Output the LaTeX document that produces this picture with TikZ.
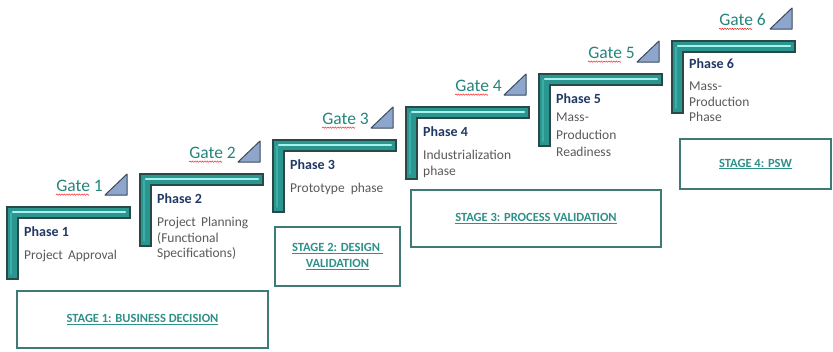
\documentclass[tikz,border=0pt]{standalone}
\usepackage{fontspec}
\setmainfont{Carlito}
\usetikzlibrary{decorations.pathmorphing}

\definecolor{barteal}{HTML}{2A9690}
\definecolor{bardark}{HTML}{2B4848}
\definecolor{shine}{HTML}{A8F2EE}
\definecolor{shinedeep}{HTML}{3DAFA8}
\definecolor{triblue}{HTML}{8EA6CC}
\definecolor{tridark}{HTML}{3B4A5C}
\definecolor{gateteal}{HTML}{25857B}
\definecolor{phasenavy}{HTML}{1F3864}
\definecolor{descgrey}{HTML}{595959}
\definecolor{stageline}{HTML}{3F7A75}
\definecolor{stageteal}{HTML}{2E9088}

\tikzset{
  stepbar/.style={fill=barteal, draw=bardark, line width=1.1pt, line join=miter},
  stepshine/.style={draw=shine, line width=2.4pt, line cap=round},
  stepside/.style={draw=shinedeep, line width=1.8pt, line cap=round},
  gatetri/.style={fill=triblue, draw=tridark, line width=1pt, line join=round},
  gatelbl/.style={font=\fontsize{17.5}{20}\selectfont, text=gateteal, anchor=east, inner sep=0pt},
  phaselbl/.style={font=\bfseries\fontsize{14}{16}\selectfont, text=phasenavy, anchor=west, inner sep=0pt},
  desclbl/.style={font=\fontsize{13.5}{15.5}\selectfont, text=descgrey, anchor=north west, align=left, inner sep=0pt},
  stagebox/.style={draw=stageline, line width=2.4pt, font=\bfseries\fontsize{12.5}{16}\selectfont, text=stageteal, align=center},
  spell/.style={draw=red, line width=0.4pt, decorate, decoration={snake, amplitude=0.7pt, segment length=2.5pt}}
}

\begin{document}
\begin{tikzpicture}[x=1pt,y=-1pt]
\useasboundingbox (0,0) rectangle (833,351);

\draw [stepbar] (7,207) -- ++(123,0) -- ++(0,11) -- ++(-112,0) -- ++(0,61) -- ++(-11,0) -- cycle;
\draw [stepbar] (140,174) -- ++(123,0) -- ++(0,11) -- ++(-112,0) -- ++(0,61) -- ++(-11,0) -- cycle;
\draw [stepbar] (273,140) -- ++(123,0) -- ++(0,11) -- ++(-112,0) -- ++(0,61) -- ++(-11,0) -- cycle;
\draw [stepbar] (406,107) -- ++(123,0) -- ++(0,11) -- ++(-112,0) -- ++(0,61) -- ++(-11,0) -- cycle;
\draw [stepbar] (539,74) -- ++(123,0) -- ++(0,11) -- ++(-112,0) -- ++(0,61) -- ++(-11,0) -- cycle;
\draw [stepbar] (672,41) -- ++(123,0) -- ++(0,11) -- ++(-112,0) -- ++(0,61) -- ++(-11,0) -- cycle;

\draw [stepside] (11,213) -- ++(0,61);
\draw [stepside] (144,180) -- ++(0,61);
\draw [stepside] (277,146) -- ++(0,61);
\draw [stepside] (410,113) -- ++(0,61);
\draw [stepside] (543,80) -- ++(0,61);
\draw [stepside] (676,47) -- ++(0,61);
\draw [stepshine] (13,212) -- ++(112,0);
\draw [stepshine] (146,179) -- ++(112,0);
\draw [stepshine] (279,145) -- ++(112,0);
\draw [stepshine] (412,112) -- ++(112,0);
\draw [stepshine] (545,79) -- ++(112,0);
\draw [stepshine] (678,46) -- ++(112,0);

\draw [gatetri] (105,195) -- (127,195) -- (127,174) -- cycle;
\draw [gatetri] (238,162) -- (260,162) -- (260,141) -- cycle;
\draw [gatetri] (371,128) -- (393,128) -- (393,107) -- cycle;
\draw [gatetri] (504,95) -- (526,95) -- (526,74) -- cycle;
\draw [gatetri] (637,62) -- (659,62) -- (659,41) -- cycle;
\draw [gatetri] (770,29) -- (792,29) -- (792,8) -- cycle;

\node (g1) at (103,186) [gatelbl] {Gate 1};
\node (g2) at (236,153) [gatelbl] {Gate 2};
\node (g3) at (369,119) [gatelbl] {Gate 3};
\node (g4) at (502,86) [gatelbl] {Gate 4};
\node (g5) at (635,53) [gatelbl] {Gate 5};
\node (g6) at (766,20) [gatelbl] {Gate 6};
\draw [spell] ([yshift=-3pt]g1.base west) -- ([yshift=-3pt,xshift=33pt]g1.base west);
\draw [spell] ([yshift=-3pt]g2.base west) -- ([yshift=-3pt,xshift=33pt]g2.base west);
\draw [spell] ([yshift=-3pt]g3.base west) -- ([yshift=-3pt,xshift=33pt]g3.base west);
\draw [spell] ([yshift=-3pt]g4.base west) -- ([yshift=-3pt,xshift=33pt]g4.base west);
\draw [spell] ([yshift=-3pt]g5.base west) -- ([yshift=-3pt,xshift=33pt]g5.base west);
\draw [spell] ([yshift=-3pt]g6.base west) -- ([yshift=-3pt,xshift=33pt]g6.base west);

\node (p1) at (24,232) [phaselbl] {Phase 1};
\node (p2) at (157,199) [phaselbl] {Phase 2};
\node (p3) at (290,165) [phaselbl] {Phase 3};
\node (p4) at (423,132) [phaselbl] {Phase 4};
\node (p5) at (556,99) [phaselbl] {Phase 5};
\node (p6) at (689,64) [phaselbl] {Phase 6};

\node (d1) at (24,250) [desclbl] {Project\hspace{2pt} Approval};
\node (d2) at (157,217) [desclbl] {Project\hspace{2pt} Planning\\(Functional\\Specifications)};
\node (d3) at (290,183) [desclbl] {Prototype\hspace{3pt} phase};
\node (d4) at (423,150) [desclbl] {Industrialization\\phase};
\node (d5) at (556,113) [desclbl,font=\fontsize{13.5}{17.5}\selectfont] {Mass-\\Production\\Readiness};
\node (d6) at (689,82) [desclbl] {Mass-\\Production\\Phase};

\node (s1) at (142.5,319.5) [stagebox,minimum width=251pt,minimum height=57pt] {\underline{STAGE 1: BUSINESS DECISION}};
\node (s2) at (337.5,256.5) [stagebox,minimum width=125pt,minimum height=59pt] {\underline{STAGE 2: DESIGN\ }\\\underline{VALIDATION}};
\node (s3) at (536,218.5) [stagebox,minimum width=250pt,minimum height=57pt] {\underline{STAGE 3: PROCESS VALIDATION}};
\node (s4) at (755.5,164) [stagebox,minimum width=151pt,minimum height=50pt] {\underline{STAGE 4: PSW}};

\end{tikzpicture}
\end{document}
